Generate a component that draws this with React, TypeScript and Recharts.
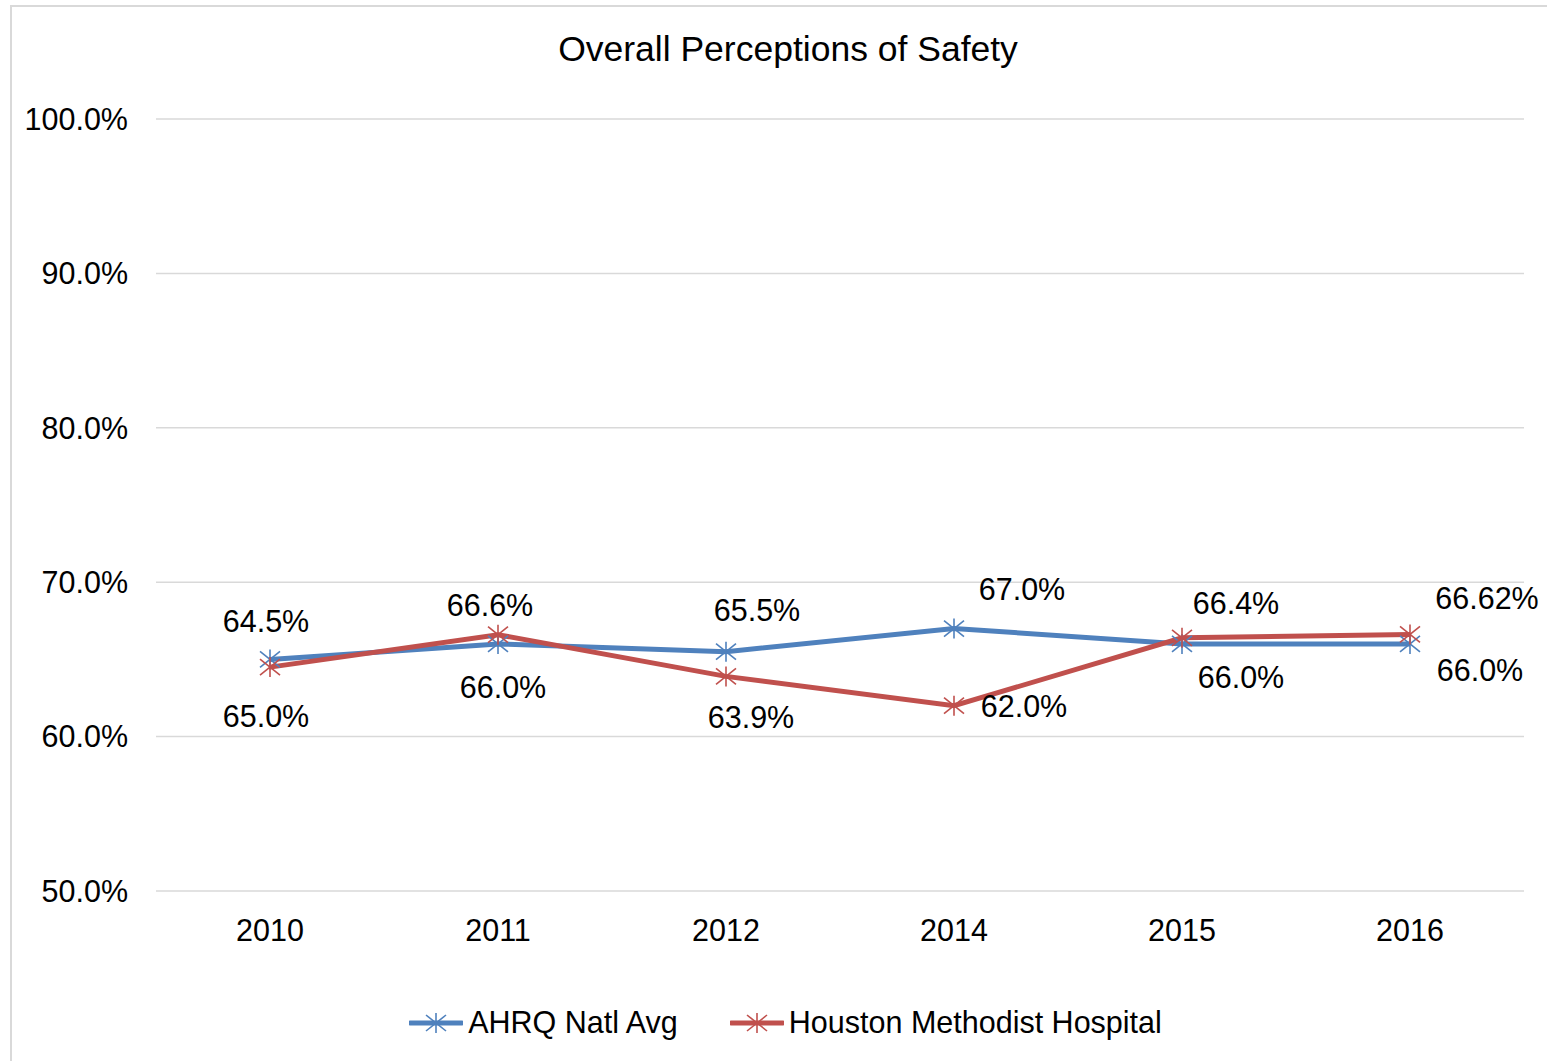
import { CartesianGrid, LabelList, Legend, Line, LineChart, XAxis, YAxis } from "recharts"

const years = ["2010", "2011", "2012", "2014", "2015", "2016"]
const ahrqValues = [65.0, 66.0, 65.5, 67.0, 66.0, 66.0]
const houstonValues = [64.5, 66.6, 63.9, 62.0, 66.4, 66.62]
const yTicks = [50, 60, 70, 80, 90, 100]

// hand placed label offsets, like the Excel original
const ahrqLabelOffsets = [[-4, 57], [5, 43], [31, -42], [68, -40], [59, 33], [70, 26]]
const houstonLabelOffsets = [[-4, -46], [-8, -30], [25, 41], [70, 0], [54, -35], [77, -36]]

const BLUE = "#4F81BD"
const RED = "#C0504D"
const FONT = "'Liberation Sans', Arial, sans-serif"
const TEXT_SIZE = 30.5

const data = years.map((year, i) => ({
  year,
  ahrq: ahrqValues[i],
  houston: houstonValues[i],
}))

function fmt(v: number) {
  const tenths = v * 10
  return Math.abs(tenths - Math.round(tenths)) < 1e-6 ? `${v.toFixed(1)}%` : `${v}%`
}

function starDot(color: string) {
  return (props: any) => {
    const { cx, cy, index } = props
    if (cx == null || cy == null) return <g key={`d-${index}`} />
    const r = 10
    return (
      <g key={`d-${index}`} stroke={color} strokeWidth={1.6}>
        <line x1={cx - r} y1={cy - r * 0.8} x2={cx + r} y2={cy + r * 0.8} />
        <line x1={cx - r} y1={cy + r * 0.8} x2={cx + r} y2={cy - r * 0.8} />
        <line x1={cx} y1={cy - r} x2={cx} y2={cy + r} />
      </g>
    )
  }
}

function offsetLabel(offsets: number[][]) {
  return (props: any) => {
    const { x, y, value, index } = props
    const [dx, dy] = offsets[index] || [0, -30]
    return (
      <text
        x={x + dx}
        y={y + dy}
        textAnchor="middle"
        dominantBaseline="central"
        fontSize={TEXT_SIZE}
        fontFamily={FONT}
        fill="#000"
      >
        {fmt(value)}
      </text>
    )
  }
}

function LegendIcon({ color }: { color: string }) {
  return (
    <svg width={54} height={24} style={{ display: "block" }}>
      <line x1={1} y1={12} x2={53} y2={12} stroke={color} strokeWidth={5} strokeLinecap="round" />
      <g stroke={color} strokeWidth={1.6}>
        <line x1={17} y1={4} x2={37} y2={20} />
        <line x1={17} y1={20} x2={37} y2={4} />
        <line x1={27} y1={2} x2={27} y2={22} />
      </g>
    </svg>
  )
}

const legendItems = [
  { name: "AHRQ Natl Avg", color: BLUE },
  { name: "Houston Methodist Hospital", color: RED },
]

function renderLegend() {
  return (
    <div style={{ display: "flex", justifyContent: "center", alignItems: "center", gap: 52 }}>
      {legendItems.map((item) => (
        <div key={item.name} style={{ display: "flex", alignItems: "center", gap: 5 }}>
          <LegendIcon color={item.color} />
          <span style={{ fontSize: TEXT_SIZE, fontFamily: FONT, color: "#000" }}>{item.name}</span>
        </div>
      ))}
    </div>
  )
}

export default function App() {
  return (
    <div
      style={{
        position: "absolute",
        left: 0,
        top: 0,
        width: 1547,
        height: 1061,
        overflow: "hidden",
        background: "#fff",
      }}
    >
      <div
        style={{
          position: "absolute",
          left: 10,
          top: 5,
          width: 1580,
          height: 1100,
          border: "2px solid #d9d9d9",
        }}
      />
      <div
        style={{
          position: "absolute",
          left: 0,
          top: 29,
          width: 1576,
          textAlign: "center",
          fontSize: 35.5,
          fontFamily: FONT,
          color: "#000",
        }}
      >
        Overall Perceptions of Safety
      </div>
      <div style={{ position: "absolute", left: 0, top: 0 }}>
        <LineChart
          width={1547}
          height={1061}
          data={data}
          margin={{ top: 119, right: 23, bottom: 140, left: 26 }}
        >
          <CartesianGrid vertical={false} stroke="#d9d9d9" strokeWidth={1.5} />
          <XAxis
            dataKey="year"
            padding={{ left: 114, right: 114 }}
            axisLine={false}
            tickLine={false}
            tickSize={6}
            tickMargin={22}
            height={30}
            tick={{ fontSize: TEXT_SIZE, fontFamily: FONT, fill: "#000" }}
          />
          <YAxis
            width={130}
            domain={[50, 100]}
            ticks={yTicks}
            interval={0}
            axisLine={false}
            tickLine={false}
            tickSize={6}
            tickMargin={22}
            tickFormatter={(v: number) => `${v.toFixed(1)}%`}
            tick={{ fontSize: TEXT_SIZE, fontFamily: FONT, fill: "#000" }}
          />
          <Legend
            verticalAlign="middle"
            align="center"
            content={renderLegend}
            wrapperStyle={{ top: 1005, left: 12, width: 1547 }}
          />
          <Line
            dataKey="ahrq"
            name="AHRQ Natl Avg"
            stroke={BLUE}
            strokeWidth={5}
            dot={starDot(BLUE)}
            activeDot={false}
            isAnimationActive={false}
          >
            <LabelList dataKey="ahrq" content={offsetLabel(ahrqLabelOffsets)} />
          </Line>
          <Line
            dataKey="houston"
            name="Houston Methodist Hospital"
            stroke={RED}
            strokeWidth={5}
            dot={starDot(RED)}
            activeDot={false}
            isAnimationActive={false}
          >
            <LabelList dataKey="houston" content={offsetLabel(houstonLabelOffsets)} />
          </Line>
        </LineChart>
      </div>
    </div>
  )
}
